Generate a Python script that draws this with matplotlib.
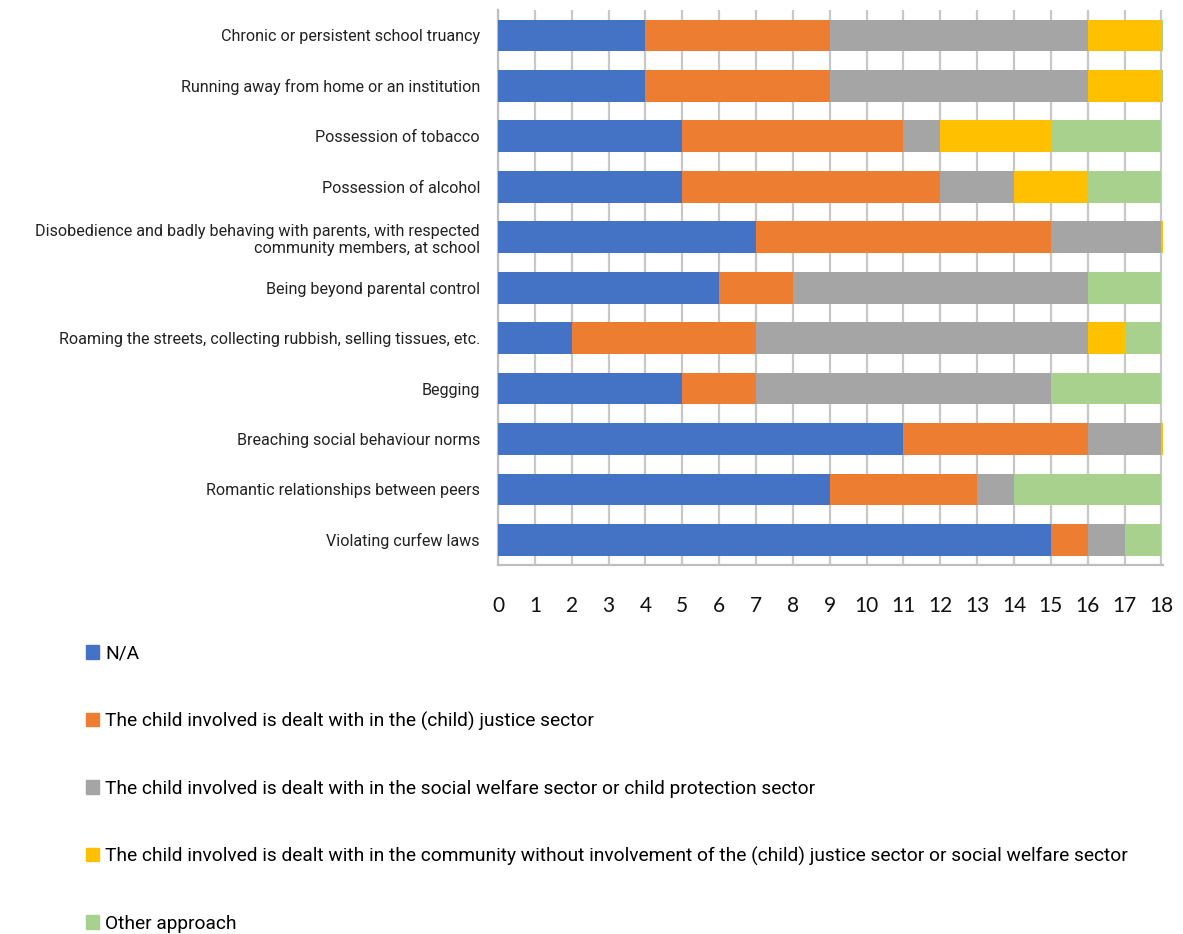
import matplotlib

matplotlib.use("Agg")
import matplotlib.pyplot as plt
from matplotlib.patches import Patch
import numpy as np

categories = [
    "Chronic or persistent school truancy",
    "Running away from home or an institution",
    "Possession of tobacco",
    "Possession of alcohol",
    "Disobedience and badly behaving with parents, with respected\ncommunity members, at school",
    "Being beyond parental control",
    "Roaming the streets, collecting rubbish, selling tissues, etc.",
    "Begging",
    "Breaching social behaviour norms",
    "Romantic relationships between peers",
    "Violating curfew laws",
]

series_names = [
    "N/A",
    "The child involved is dealt with in the (child) justice sector",
    "The child involved is dealt with in the social welfare sector or child protection sector",
    "The child involved is dealt with in the community without involvement of the (child) justice sector or social welfare sector",
    "Other approach",
]

na_vals = [4, 4, 5, 5, 7, 6, 2, 5, 11, 9, 15]
justice_vals = [5, 5, 6, 7, 8, 2, 5, 2, 5, 4, 1]
welfare_vals = [7, 7, 1, 2, 3, 8, 9, 8, 2, 1, 1]
community_vals = [2, 2, 3, 2, 1, 0, 1, 0, 1, 0, 0]
other_vals = [1, 1, 3, 2, 0, 2, 1, 3, 0, 4, 1]

colors = ["#4472C4", "#ED7D31", "#A5A5A5", "#FFC000", "#A9D18E"]

label_font = ["Liberation Sans Narrow", "Roboto", "DejaVu Sans"]

fig = plt.figure(figsize=(11.83, 9.34), dpi=100)
ax = fig.add_axes([0.421, 0.395, 0.562, 0.594])

y = np.arange(len(categories))
left = np.zeros(len(categories))
for vals, name, c in zip(
    [na_vals, justice_vals, welfare_vals, community_vals, other_vals], series_names, colors
):
    vals = np.array(vals, dtype=float)
    ax.barh(y, vals, left=left, height=0.63, color=c, label=name, zorder=3)
    left += vals

ax.set_xlim(0, 18.04)
ax.set_ylim(len(categories) - 0.5, -0.5)
ax.set_xticks(range(0, 19))
ax.set_yticks(y)
ax.set_yticklabels(categories, family=label_font, fontsize=11.6, color="#222222")
for lbl in ax.get_xticklabels():
    lbl.set_family(["Lato", "DejaVu Sans"])
    lbl.set_fontsize(15)
    lbl.set_color("#111111")

ax.grid(axis="x", color="#c8c8c8", linewidth=1.6, zorder=0)
ax.tick_params(axis="x", length=0, pad=22)
ax.tick_params(axis="y", length=0, pad=13)
for side in ["top", "right"]:
    ax.spines[side].set_visible(False)
for side in ["left", "bottom"]:
    ax.spines[side].set_color("#bfbfbf")
    ax.spines[side].set_linewidth(1.6)

handles = [Patch(color=c) for c in colors]
fig.legend(
    handles,
    series_names,
    loc="upper left",
    bbox_to_anchor=(0.066, 0.318),
    frameon=False,
    prop={"family": label_font, "size": 13.8},
    labelspacing=2.55,
    handlelength=0.7,
    handleheight=0.7,
    handletextpad=0.3,
    borderaxespad=0,
)

fig.savefig("out.png", dpi=100)
